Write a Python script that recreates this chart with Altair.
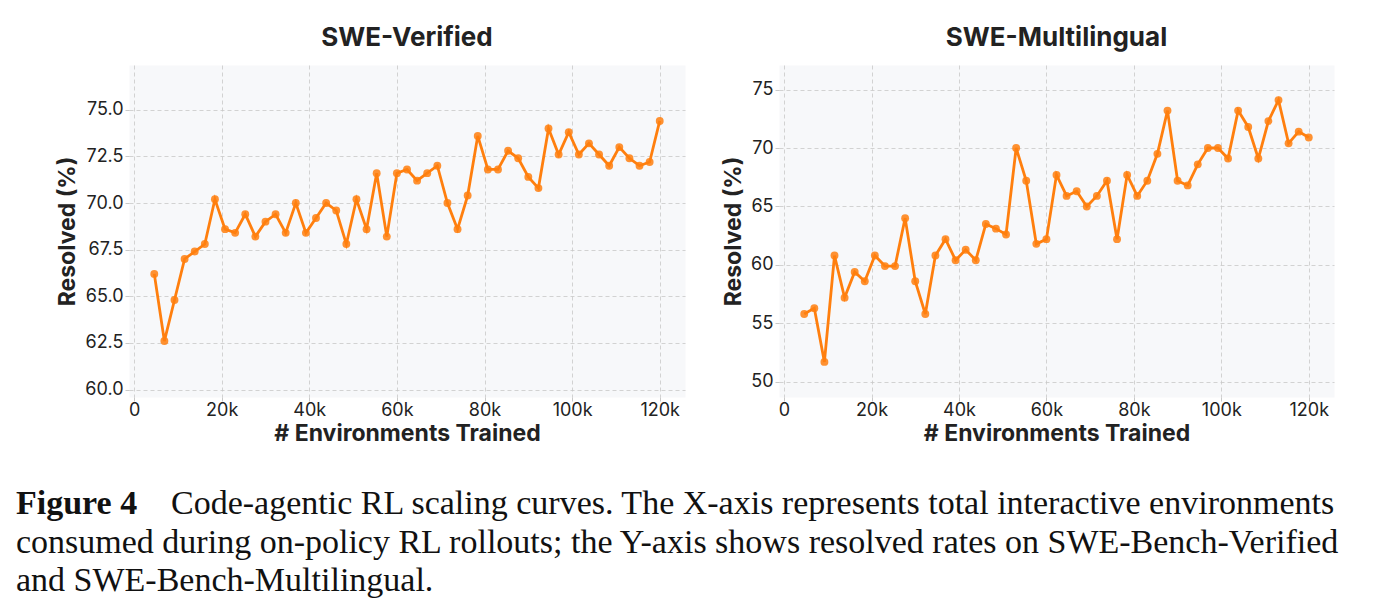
import altair as alt
import pandas as pd

# x positions (# environments trained) shared by both panels
envs = [4615, 6923, 9231, 11538, 13846, 16154, 18462, 20769, 23077, 25385,
        27692, 30000, 32308, 34615, 36923, 39231, 41538, 43846, 46154, 48462,
        50769, 53077, 55385, 57692, 60000, 62308, 64615, 66923, 69231, 71538,
        73846, 76154, 78462, 80769, 83077, 85385, 87692, 90000, 92308, 94615,
        96923, 99231, 101538, 103846, 106154, 108462, 110769, 113077, 115385,
        117692, 120000]

verified = [66.2, 62.6, 64.8, 67.0, 67.4, 67.8, 70.2, 68.6, 68.4, 69.4,
            68.2, 69.0, 69.4, 68.4, 70.0, 68.4, 69.2, 70.0, 69.6, 67.8,
            70.2, 68.6, 71.6, 68.2, 71.6, 71.8, 71.2, 71.6, 72.0, 70.0,
            68.6, 70.4, 73.6, 71.8, 71.8, 72.8, 72.4, 71.4, 70.8, 74.0,
            72.6, 73.8, 72.6, 73.2, 72.6, 72.0, 73.0, 72.4, 72.0, 72.2, 74.4]

multilingual = [55.8, 56.3, 51.7, 60.8, 57.2, 59.4, 58.6, 60.8, 59.9, 59.9,
                64.0, 58.6, 55.8, 60.8, 62.2, 60.4, 61.3, 60.4, 63.5, 63.1,
                62.6, 70.0, 67.2, 61.8, 62.2, 67.7, 65.9, 66.3, 65.0, 65.9,
                67.2, 62.2, 67.7, 65.9, 67.2, 69.5, 73.2, 67.2, 66.8, 68.6,
                70.0, 70.0, 69.1, 73.2, 71.8, 69.1, 72.3, 74.1, 70.4, 71.4, 70.9]

x_ticks = [0, 20000, 40000, 60000, 80000, 100000, 120000]
verified_ticks = [60.0, 62.5, 65.0, 67.5, 70.0, 72.5, 75.0]
multilingual_ticks = [50, 55, 60, 65, 70, 75]

titles = ["SWE-Verified", "SWE-Multilingual"]
x_title = "# Environments Trained"
y_title = "Resolved (%)"

caption_bold = "Figure 4"
caption_lines = [
    "Code-agentic RL scaling curves. The X-axis represents total interactive environments",
    "consumed during on-policy RL rollouts; the Y-axis shows resolved rates on SWE-Bench-Verified",
    "and SWE-Bench-Multilingual.",
]

ORANGE = "#FF7F0E"
SANS = "Inter"
SERIF = "Liberation Serif"
CAP_SIZE = 34


def caption_text(txt, xpos, ypos, bold=False):
    return alt.Chart(pd.DataFrame({"t": [txt]})).mark_text(
        font=SERIF, fontSize=CAP_SIZE, fontWeight="bold" if bold else "normal",
        align="left", baseline="alphabetic", color="#111111",
    ).encode(text="t:N", x=alt.value(xpos), y=alt.value(ypos))


def panel(values, title, ydomain, yticks, yfmt, width, extra=()):
    df = pd.DataFrame({"env": envs, "val": values})
    x = alt.X(
        "env:Q",
        scale=alt.Scale(domain=[-1154, 125769], nice=False, zero=False),
        axis=alt.Axis(
            values=x_ticks,
            labelExpr="datum.value == 0 ? '0' : (datum.value / 1000) + 'k'",
            title=x_title,
        ),
    )
    y = alt.Y(
        "val:Q",
        scale=alt.Scale(domain=ydomain, nice=False, zero=False),
        axis=alt.Axis(values=yticks, format=yfmt, title=y_title),
    )
    base = alt.Chart(df)
    line = base.mark_line(color=ORANGE, strokeWidth=2.8).encode(x=x, y=y)
    pts = base.mark_circle(color=ORANGE, size=62, opacity=0.85).encode(x=x, y=y)
    return alt.layer(line, pts, *extra).properties(
        width=width,
        height=332,
        title=alt.TitleParams(title, fontSize=26, fontWeight="bold", font=SANS,
                              color="#222222", offset=14, anchor="middle"),
    )


# caption positions relative to the left panel's plot origin
cap = [
    caption_text(caption_bold, -113, 449, bold=True),
    caption_text(caption_lines[0], 42, 449),
    caption_text(caption_lines[1], -113, 488),
    caption_text(caption_lines[2], -113, 526),
]

left = panel(verified, titles[0], [59.6, 77.4], verified_ticks, ".1f", 556, cap)
right = panel(multilingual, titles[1], [48.7, 77.1], multilingual_ticks, "d", 555)

chart = alt.hconcat(left, right, spacing=94, bounds="flush").properties(
    padding={"left": 15, "top": 24, "right": 0, "bottom": 0},
    background="white",
).configure_view(
    fill="#F7F8FA", stroke="transparent"
).configure_axis(
    grid=True, gridColor="#C8C8C8", gridDash=[4, 3], gridWidth=0.8,
    domain=False, tickColor="#BBBBBB", tickSize=4, tickWidth=0.8,
    labelFont=SANS, labelFontSize=18, labelColor="#222222", labelPadding=2,
    titleFont=SANS, titleFontSize=23, titleFontWeight="bold", titleColor="#222222",
).configure_axisY(
    titlePadding=5
).configure_axisX(
    titlePadding=3, labelPadding=0
)

chart.save("out.html", embed_options={"renderer": "svg", "actions": False})
